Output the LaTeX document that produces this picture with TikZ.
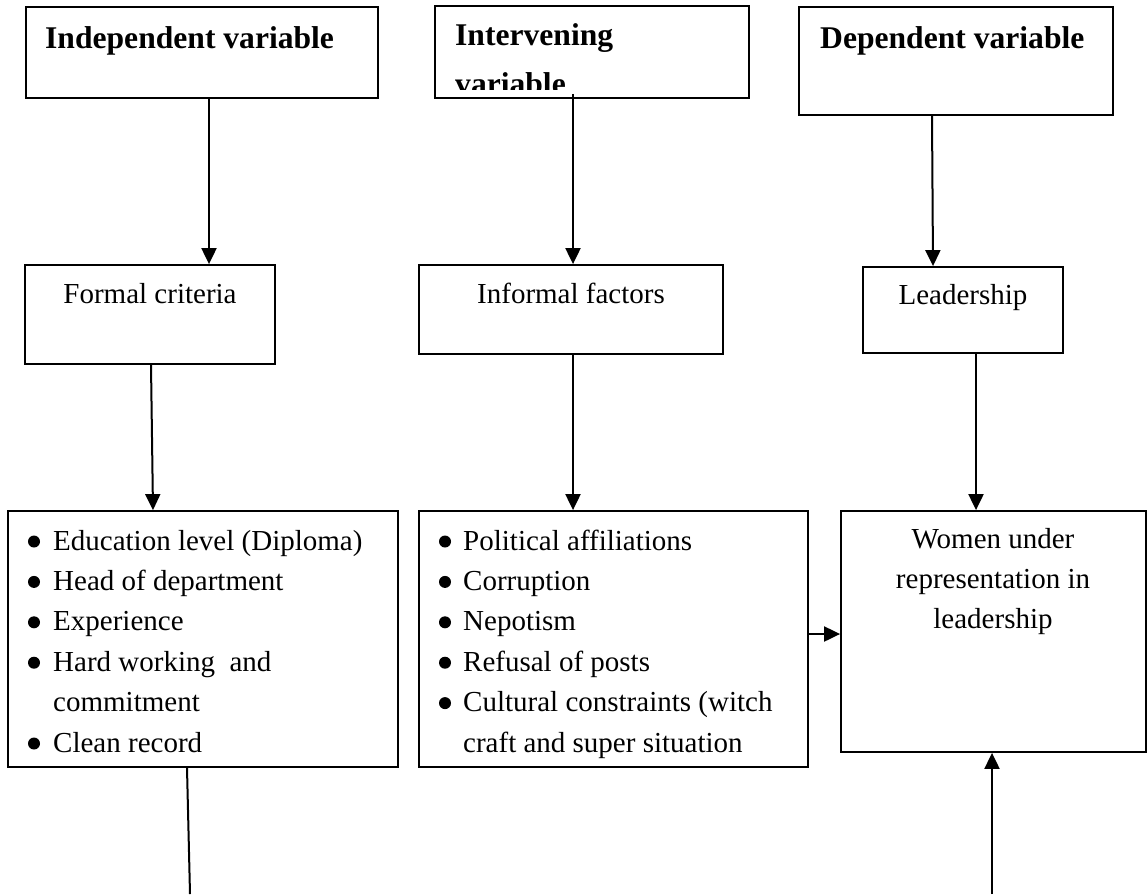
\documentclass[tikz,border=0pt]{standalone}
\usepackage{fontspec}
\setmainfont{Liberation Serif}
\usetikzlibrary{arrows.meta,calc}
\tikzset{
  box/.style={draw, line width=1.8pt, inner sep=0pt},
  body/.style={font=\fontsize{29pt}{40pt}\selectfont, inner sep=0pt},
  head/.style={font=\fontsize{31.6pt}{48pt}\selectfont\bfseries, inner sep=0pt},
  dot/.style={circle, fill=black, inner sep=0pt, minimum size=12pt},
  conn/.style={line width=2pt},
  arr/.style={line width=2pt, -{Triangle[length=16pt,width=15pt]}}
}
\begin{document}
\begin{tikzpicture}[x=1pt,y=-1pt]
\useasboundingbox (0,0) rectangle (1147,894);
% boxes
\node[box, minimum width=352pt, minimum height=91pt] (ind) at (202,52.5) {};
\node[box, minimum width=314pt, minimum height=92pt] (int) at (592,52) {};
\node[box, minimum width=314pt, minimum height=108pt] (dep) at (956,61) {};
\node[box, minimum width=250pt, minimum height=99pt] (formal) at (150,314.5) {};
\node[box, minimum width=304pt, minimum height=89pt] (informal) at (571,309.5) {};
\node[box, minimum width=200pt, minimum height=86pt] (lead) at (963,310) {};
\node[box, minimum width=390pt, minimum height=256pt] (b1) at (203,639) {};
\node[box, minimum width=389pt, minimum height=256pt] (b2) at (613.5,639) {};
\node[box, minimum width=305pt, minimum height=241pt] (women) at (993.5,631.5) {};
% header texts
\node[head, anchor=base west] (tind) at (45,48) {Independent variable};
\node[head, anchor=base west] (tint1) at (455,45) {Intervening};
\begin{scope}
\clip (440,50) rectangle (745,89.5);
\node[head, anchor=base west] (tint2) at (455,94) {variable};
\end{scope}
\node[head, anchor=base west] (tdep) at (820,48) {Dependent variable};
% middle texts
\node[body, anchor=base] (tformal) at (150,303) {Formal criteria};
\node[body, anchor=base] (tinformal) at (571,303) {Informal factors};
\node[body, anchor=base] (tlead) at (963,304) {Leadership};
% bullet list 1
\node[dot] (d1) at (34,541.5) {};
\node[body, anchor=base west] (e1) at (53,550) {Education level (Diploma)};
\node[dot] (d2) at (34,581.9) {};
\node[body, anchor=base west] (e2) at (53,590.4) {Head of department};
\node[dot] (d3) at (34,622.3) {};
\node[body, anchor=base west] (e3) at (53,630.8) {Experience};
\node[dot] (d4) at (34,662.7) {};
\node[body, anchor=base west] (e4) at (53,671.2) {Hard working\ \ and};
\node[body, anchor=base west] (e5) at (53,711.6) {commitment};
\node[dot] (d6) at (34,743.5) {};
\node[body, anchor=base west] (e6) at (53,752) {Clean record};
% bullet list 2
\node[dot] (f1) at (445,541.5) {};
\node[body, anchor=base west] (g1) at (463,550) {Political affiliations};
\node[dot] (f2) at (445,581.9) {};
\node[body, anchor=base west] (g2) at (463,590.4) {Corruption};
\node[dot] (f3) at (445,622.3) {};
\node[body, anchor=base west] (g3) at (463,630.8) {Nepotism};
\node[dot] (f4) at (445,662.7) {};
\node[body, anchor=base west] (g4) at (463,671.2) {Refusal of posts};
\node[dot] (f5) at (445,703.1) {};
\node[body, anchor=base west] (g5) at (463,711.6) {Cultural constraints (witch};
\node[body, anchor=base west] (g6) at (463,752) {craft and super situation};
% women text
\node[body, anchor=base] (w1) at (993,548) {Women under};
\node[body, anchor=base] (w2) at (993,588) {representation in};
\node[body, anchor=base] (w3) at (993,628) {leadership};
% free ends
\coordinate (bot1) at (190,894);
\coordinate (bot2) at (992,894);
% connectors
\draw[arr] ([xshift=7pt]ind.south) -- ([xshift=59pt]formal.north);
\draw[arr] ([xshift=-19pt,yshift=5pt]int.south) -- ([xshift=2pt]informal.north);
\draw[arr] ([xshift=-24pt]dep.south) -- ([xshift=-30pt]lead.north);
\draw[arr] ([xshift=1pt]formal.south) -- ([xshift=-50pt]b1.north);
\draw[arr] ([xshift=2pt]informal.south) -- ([xshift=-40.5pt]b2.north);
\draw[arr] ([xshift=13pt]lead.south) -- ([xshift=-17.5pt]women.north);
\draw[arr] ([yshift=5pt]b2.east) -- ([yshift=-2.5pt]women.west);
\draw[arr] (bot2) -- ([xshift=-1.5pt]women.south);
\draw[conn] ([xshift=-16pt]b1.south) -- (bot1);
\end{tikzpicture}
\end{document}
